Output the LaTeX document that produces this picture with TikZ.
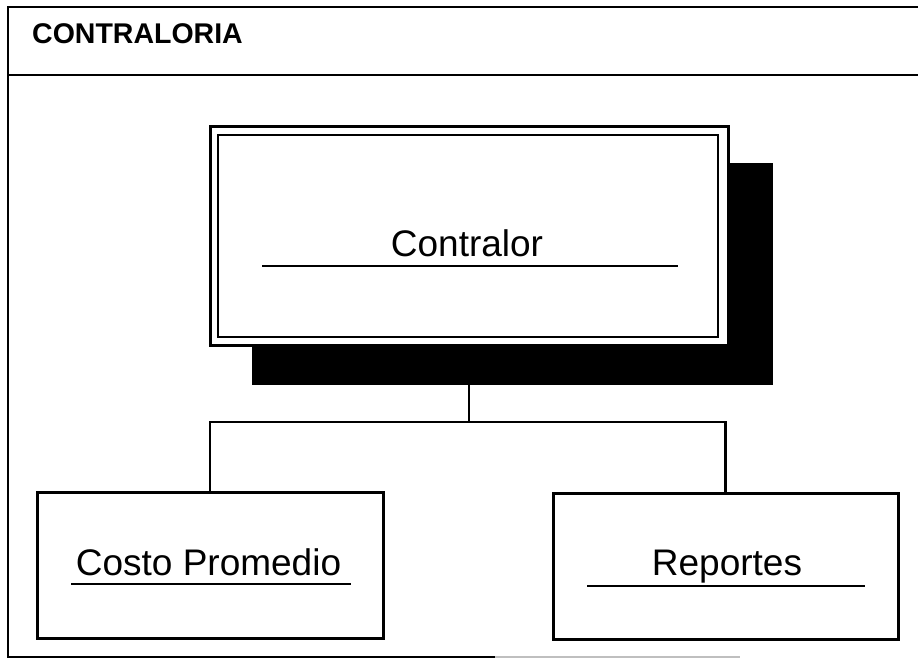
\documentclass[tikz,border=0pt]{standalone}
\usepackage{fontspec}
\setmainfont{Liberation Sans}
\begin{document}
\begin{tikzpicture}[x=1pt,y=-1pt,
  frameline/.style={line width=2.5pt},
  boxnode/.style={draw, line width=3pt, fill=white, inner sep=0pt},
  lbl/.style={anchor=base, font=\fontsize{37}{44}\selectfont, inner sep=0pt},
  uline/.style={line width=2.6pt},
  conn/.style={line width=2.6pt, line join=miter}]
\useasboundingbox (0,0) rectangle (918,660);
\fill[white] (0,0) rectangle (918,660);
% outer frame
\draw[frameline] (918,7) -- (8,7) -- (8,657) -- (495,657);
\draw[line width=1.5pt, black!25] (495,657) -- (740,657);
\draw[frameline] (8,75) -- (918,75);
\node[anchor=base west, inner sep=0pt, font=\bfseries\fontsize{28.5}{34}\selectfont] (title) at (32,44) {CONTRALORIA};
% shadow of Contralor box
\fill[black] (252,163) rectangle (773,385);
% Contralor box (double border)
\node[boxnode, minimum width=518pt, minimum height=218pt] (ctr) at (469,236) {};
\draw[line width=2.5pt] (218,135) rectangle (718,337);
\node[lbl] (ctrt) at (467,257) {Contralor};
\draw[uline] (262,266) -- (678,266);
% children
\node[boxnode, minimum width=346pt, minimum height=146pt] (costo) at (210,565) {};
\node[lbl] (costot) at (208.5,575) {Costo Promedio};
\draw[uline] (71,584) -- (351,584);
\node[boxnode, minimum width=345pt, minimum height=146pt] (rep) at (725.5,566) {};
\node[lbl] (rept) at (727,575) {Reportes};
\draw[uline] (587,586) -- (865,586);
% connectors
\coordinate (j) at (469,422);
\draw[conn] (ctr.south) -- (j);
\draw[conn] (costo.north) |- (j) -| (rep.north);
\end{tikzpicture}
\end{document}
